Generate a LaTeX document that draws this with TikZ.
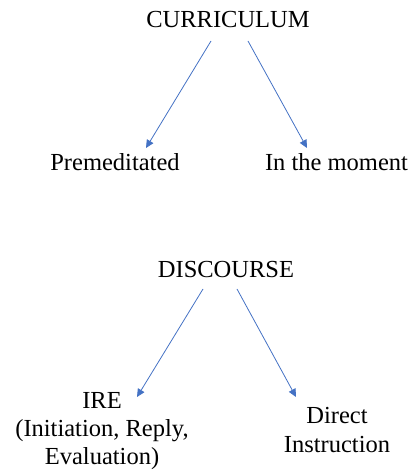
\documentclass[tikz,border=0pt]{standalone}
\usepackage{fontspec}
\setmainfont{Liberation Serif}
\usetikzlibrary{arrows.meta}
\definecolor{linkblue}{HTML}{4472C4}
\tikzset{
  label text/.style={inner sep=0pt, font=\fontsize{24.5}{28}\selectfont},
  link/.style={draw=linkblue, line width=0.8pt, -{Triangle[length=8pt,width=7.5pt]}}
}
\begin{document}
\begin{tikzpicture}[x=1pt,y=1pt]
  \useasboundingbox (0,0) rectangle (411,472);
  % curriculum branch
  \node[label text, anchor=base] (curr) at (228,444) {CURRICULUM};
  \node[label text, anchor=base] (prem) at (115,301) {Premeditated};
  \node[label text, anchor=base] (moment) at (336.5,301) {In the moment};
  \draw[link] ([shift={(-17,-13)}]curr.base) -- ([shift={(31,23)}]prem.base);
  \draw[link] ([shift={(20,-13)}]curr.base) -- ([shift={(-29.5,23)}]moment.base);
  % discourse branch
  \node[label text, anchor=base] (disc) at (226,194) {DISCOURSE};
  \node[label text, anchor=north, align=center] (ire) at (102,80.2)
    {IRE\\(Initiation, Reply,\\Evaluation)};
  \node[label text, anchor=north, align=center, font=\fontsize{24.5}{29}\selectfont] (direct) at (337,65.2)
    {Direct\\Instruction};
  \draw[link] ([shift={(-23,-11)}]disc.base) -- ([shift={(35,-5.2)}]ire.north);
  \draw[link] ([shift={(11,-11)}]disc.base) -- ([shift={(-41,9.8)}]direct.north);
\end{tikzpicture}
\end{document}
